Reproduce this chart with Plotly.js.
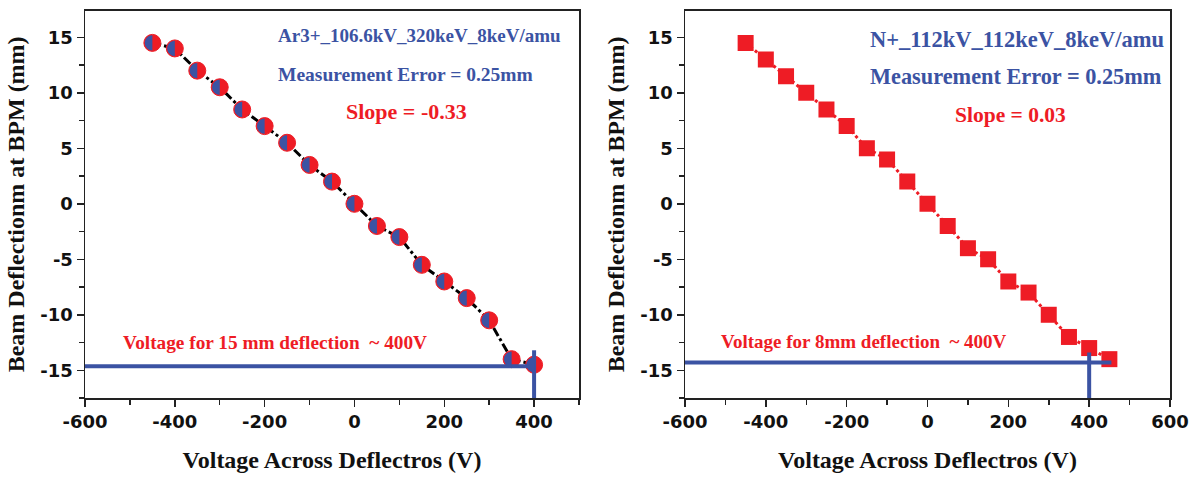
<!DOCTYPE html>
<html>
<head>
<meta charset="utf-8">
<script src="https://cdn.plot.ly/plotly-3.0.1.min.js"></script>
<style>html,body{margin:0;padding:0;background:#fff;}#chart{width:1198px;height:479px;}</style>
</head>
<body>
<div id="chart"></div>
<script>
// ---- Data ----
const arVoltage = [-450,-400,-350,-300,-250,-200,-150,-100,-50,0,50,100,150,200,250,300,350,400];
const arDeflection = [14.5,14,12,10.5,8.5,7,5.5,3.5,2,0,-2,-3,-5.5,-7,-8.5,-10.5,-14,-14.5];

const nVoltage = [-450,-400,-350,-300,-250,-200,-150,-100,-50,0,50,100,150,200,250,300,350,400,450];
const nDeflection = [14.5,13,11.5,10,8.5,7,5,4,2,0,-2,-4,-5,-7,-8,-10,-12,-13,-14];

// guide lines (blue) marking ~400 V
const arGuideHX = [-600, 400];
const arGuideHY = [-14.65, -14.65];
const arGuideVX = [400, 400];
const arGuideVY = [-13.2, -17.5];

const nGuideHX = [-600, 455];
const nGuideHY = [-14.3, -14.3];
const nGuideVX = [400, 400];
const nGuideVY = [-13.4, -17.5];

// tick labels
const yTickVals = [15,10,5,0,-5,-10,-15];
const yTickText = ["15","10","5","0","-5","-10","-15"];
const xTickValsLeft = [-600,-400,-200,0,200,400];
const xTickTextLeft = ["-600","-400","-200","0","200","400"];
const xTickValsRight = [-600,-400,-200,0,200,400,600];
const xTickTextRight = ["-600","-400","-200","0","200","400","600"];

// text
const arLabel = "Ar3+_106.6kV_320keV_8keV/amu";
const nLabel = "N+_112kV_112keV_8keV/amu";
const errLabel = "Measurement Error = 0.25mm";
const arSlope = "Slope = -0.33";
const nSlope = "Slope = 0.03";
const arVoltText = "Voltage for 15 mm deflection&nbsp;&nbsp;~ 400V";
const nVoltText = "Voltage for 8mm deflection&nbsp;&nbsp;~ 400V";
const xTitle = "Voltage Across Deflectros (V)";
const yTitle = "Beam Deflectionm at BPM (mm)";

// ---- Styling ----
const RED = "#ee1c25";
const BLUE = "#3b53a3";
const W = 1198, H = 479;

const traces = [
  { x: arVoltage, y: arDeflection, xaxis: "x", yaxis: "y", mode: "lines",
    line: { color: "#000", width: 3, dash: "dashdot" }, hoverinfo: "skip" },
  { x: arVoltage, y: arDeflection, xaxis: "x", yaxis: "y", mode: "markers",
    marker: { symbol: "circle", size: 17, color: RED, line: { color: RED, width: 1 } } },
  { x: arGuideHX, y: arGuideHY, xaxis: "x", yaxis: "y", mode: "lines",
    line: { color: BLUE, width: 4 }, hoverinfo: "skip" },
  { x: arGuideVX, y: arGuideVY, xaxis: "x", yaxis: "y", mode: "lines",
    line: { color: BLUE, width: 4 }, hoverinfo: "skip" },

  { x: nVoltage, y: nDeflection, xaxis: "x2", yaxis: "y2", mode: "lines",
    line: { color: RED, width: 3, dash: "dot" }, hoverinfo: "skip" },
  { x: nVoltage, y: nDeflection, xaxis: "x2", yaxis: "y2", mode: "markers",
    marker: { symbol: "square", size: 16, color: RED, line: { width: 0 } } },
  { x: nGuideHX, y: nGuideHY, xaxis: "x2", yaxis: "y2", mode: "lines",
    line: { color: BLUE, width: 4 }, hoverinfo: "skip" },
  { x: nGuideVX, y: nGuideVY, xaxis: "x2", yaxis: "y2", mode: "lines",
    line: { color: BLUE, width: 4 }, hoverinfo: "skip" }
];

// blue left half of each circle marker (pixel-sized glyph anchored at the data point)
function halfCirclePath(r) {
  let p = "";
  for (let i = 0; i <= 16; i++) {
    const a = Math.PI / 2 + Math.PI * i / 16;
    const px = (r * Math.cos(a)).toFixed(2), py = (r * Math.sin(a)).toFixed(2);
    p += (i === 0 ? "M" : "L") + px + "," + py + " ";
  }
  return p + "Z";
}
const hp = halfCirclePath(7.6);
const shapes = arVoltage.map((v, i) => ({
  type: "path", xref: "x", yref: "y", xsizemode: "pixel", ysizemode: "pixel",
  xanchor: v, yanchor: arDeflection[i], path: hp,
  fillcolor: BLUE, line: { width: 0 }, layer: "above"
}));

const tickFont = { family: "DejaVu Sans, Arial, sans-serif", size: 18, color: "#111", weight: "bold" };
const titleFont = { family: "Liberation Serif, Times New Roman, serif", size: 24, color: "#111", weight: "bold" };

function xAxis(domain, range, tv, tt, anchor) {
  return {
    domain: domain, range: range, anchor: anchor, tickmode: "array", tickvals: tv, ticktext: tt,
    ticks: "outside", ticklen: 7, tickwidth: 1.5, tickcolor: "#222",
    minor: { dtick: 100, ticks: "outside", ticklen: 5, tickwidth: 1.5, tickcolor: "#222" },
    showline: true, linecolor: "#222", linewidth: 1.5, mirror: true,
    showgrid: false, zeroline: false, tickfont: tickFont,
    title: { text: xTitle, font: titleFont, standoff: 20 }
  };
}
function yAxis(domain, anchor) {
  return {
    domain: domain, range: [-17.5, 17.4], anchor: anchor, tickmode: "array",
    tickvals: yTickVals, ticktext: yTickText,
    ticks: "outside", ticklen: 7, tickwidth: 1.5, tickcolor: "#222",
    minor: { dtick: 2.5, tick0: 0, ticks: "outside", ticklen: 5, tickwidth: 1.5, tickcolor: "#222" },
    showline: true, linecolor: "#222", linewidth: 1.5, mirror: true,
    showgrid: false, zeroline: false, tickfont: tickFont,
    title: { text: yTitle, font: titleFont, standoff: 9 }
  };
}

const yDom = [(H - 398) / H, (H - 10.7) / H];

function ann(text, xpx, ypx, color, size) {
  return { text: text, xref: "paper", yref: "paper", x: xpx / W, y: 1 - ypx / H,
    xanchor: "left", yanchor: "middle", showarrow: false,
    font: { family: "Liberation Serif, Times New Roman, serif", size: size, color: color, weight: "bold" } };
}

const layout = {
  width: W, height: H, margin: { l: 0, r: 0, t: 0, b: 0 },
  paper_bgcolor: "#fff", plot_bgcolor: "#fff", showlegend: false,
  xaxis: xAxis([85 / W, 579 / W], [-600, 500], xTickValsLeft, xTickTextLeft, "y"),
  yaxis: yAxis(yDom, "x"),
  xaxis2: xAxis([685 / W, 1170 / W], [-600, 600], xTickValsRight, xTickTextRight, "y2"),
  yaxis2: yAxis(yDom, "x2"),
  shapes: shapes,
  annotations: [
    ann(arLabel, 276, 36, BLUE, 19),
    ann(errLabel, 276, 74, BLUE, 19.5),
    ann(arSlope, 344, 111, RED, 22),
    ann(arVoltText, 121, 342, RED, 19.3),
    ann(nLabel, 868, 39, BLUE, 22.5),
    ann(errLabel, 868, 76, BLUE, 22.3),
    ann(nSlope, 953, 115, RED, 21.5),
    ann(nVoltText, 719, 341, RED, 19)
  ]
};

Plotly.newPlot("chart", traces, layout, { staticPlot: true, displayModeBar: false });
</script>
</body>
</html>
